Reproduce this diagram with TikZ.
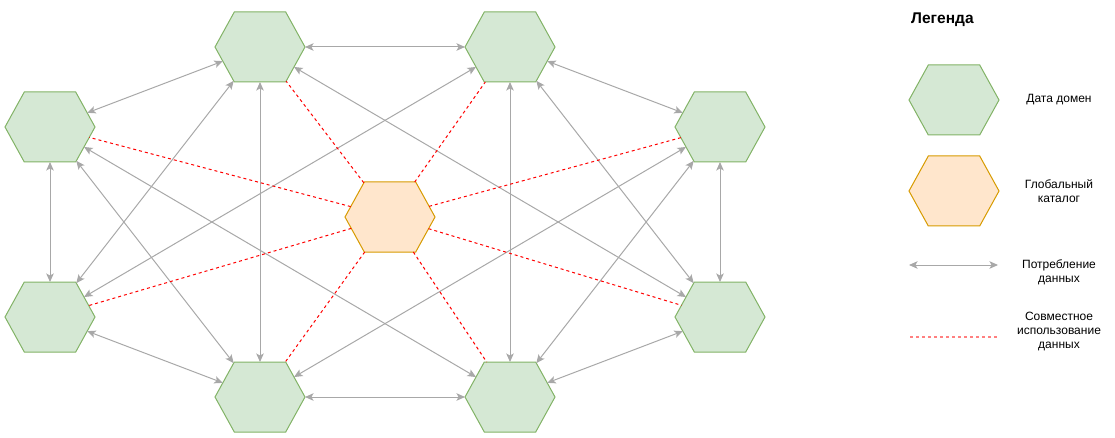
\documentclass[tikz,border=0pt]{standalone}
\usepackage{fontspec}
\setmainfont{Liberation Sans}
\usetikzlibrary{arrows.meta}
\definecolor{domfill}{HTML}{D5E8D4}
\definecolor{domstroke}{HTML}{82B366}
\definecolor{catfill}{HTML}{FFE6CC}
\definecolor{catstroke}{HTML}{D79B00}
\definecolor{edgegray}{HTML}{A8A8A8}
\definecolor{sharered}{HTML}{FF0000}
\definecolor{legendred}{HTML}{FF8080}
\makeatletter
\def\hexA{45}\def\hexB{35}\def\hexC{19.3}
\pgfdeclareshape{hexbox}{%
  \anchor{center}{\pgfpointorigin}%
  \anchor{text}{\pgf@x=-.5\wd\pgfnodeparttextbox \pgf@y=-.5\ht\pgfnodeparttextbox \advance\pgf@y by .5\dp\pgfnodeparttextbox}%
  \anchor{north}{\pgfpoint{0pt}{\hexB pt}}%
  \anchor{south}{\pgfpoint{0pt}{-\hexB pt}}%
  \anchor{east}{\pgfpoint{\hexA pt}{0pt}}%
  \anchor{west}{\pgfpoint{-\hexA pt}{0pt}}%
  \backgroundpath{%
    \pgfpathmoveto{\pgfpoint{-\hexA pt}{0pt}}%
    \pgfpathlineto{\pgfpoint{-\hexA pt+\hexC pt}{\hexB pt}}%
    \pgfpathlineto{\pgfpoint{\hexA pt-\hexC pt}{\hexB pt}}%
    \pgfpathlineto{\pgfpoint{\hexA pt}{0pt}}%
    \pgfpathlineto{\pgfpoint{\hexA pt-\hexC pt}{-\hexB pt}}%
    \pgfpathlineto{\pgfpoint{-\hexA pt+\hexC pt}{-\hexB pt}}%
    \pgfpathclose
  }%
  \anchorborder{%
    \edef\hx@dx{\the\pgf@x}\edef\hx@dy{\the\pgf@y}%
    \pgfmathsetmacro\hx@t{min(\hexB/max(abs(\hx@dy),0.01),\hexA/max(abs(\hx@dx)+(\hexC/\hexB)*abs(\hx@dy),0.01))}%
    \pgfmathsetmacro\hx@rx{\hx@t*(\hx@dx)}%
    \pgfmathsetmacro\hx@ry{\hx@t*(\hx@dy)}%
    \pgf@x=\hx@rx pt\relax
    \pgf@y=\hx@ry pt\relax
  }%
}
\makeatother
\tikzset{
  dom/.style={shape=hexbox, draw=domstroke, fill=domfill, line width=1pt},
  cat/.style={shape=hexbox, draw=catstroke, fill=catfill, line width=1pt},
  con/.style={draw=edgegray, line width=1pt, >={Stealth[length=8.5pt,width=7.5pt,inset=2pt]}, <->},
  share/.style={draw=sharered, line width=1pt, dash pattern=on 3pt off 3pt},
  legshare/.style={draw=legendred, line width=2pt, dash pattern=on 3pt off 3pt},
  lbl/.style={font=\fontsize{12}{14}\selectfont, align=center, inner sep=0pt},
  ttl/.style={font=\bfseries\fontsize{15.5}{18}\selectfont, anchor=west, inner sep=0pt}
}
\begin{document}
\begin{tikzpicture}[x=1pt,y=-1pt]
\useasboundingbox (0,0) rectangle (1115,438);
% domains
\node[dom] (A) at (260,47) {};
\node[dom] (B) at (510,47) {};
\node[dom] (C) at (50,127) {};
\node[dom] (D) at (720,127) {};
\node[dom] (F) at (50,317) {};
\node[dom] (G) at (720,317) {};
\node[dom] (H) at (260,397) {};
\node[dom] (I) at (510,397) {};
\node[cat] (E) at (390,217) {};
% data consumption
\draw[con] (A) -- (B);
\draw[con] (A) -- (C);
\draw[con] (A) -- (F);
\draw[con] (A) -- (H);
\draw[con] (A) -- (G);
\draw[con] (B) -- (D);
\draw[con] (B) -- (G);
\draw[con] (B) -- (I);
\draw[con] (B) -- (F);
\draw[con] (C) -- (F);
\draw[con] (C) -- (H);
\draw[con] (C) -- (I);
\draw[con] (D) -- (G);
\draw[con] (D) -- (I);
\draw[con] (D) -- (H);
\draw[con] (F) -- (H);
\draw[con] (G) -- (I);
\draw[con] (H) -- (I);
% data sharing
\foreach \n in {A,B,C,D,F,G,H,I} \draw[share] (E) -- (\n);
% legend
\node[ttl] (title) at (911,20) {Легенда};
\node[dom] (ldom) at (954,100) {};
\node[lbl] (tdom) at (1059,100) {Дата домен};
\node[cat] (lcat) at (954,191) {};
\node[lbl] (tcat) at (1059,191) {Глобальный\\каталог};
\coordinate (la1) at (909,265);
\coordinate (la2) at (998,265);
\draw[con] (la1) -- (la2);
\node[lbl] (tcon) at (1059,272) {Потребление\\данных};
\coordinate (ls1) at (910,337);
\coordinate (ls2) at (997,337);
\draw[legshare] (ls1) -- (ls2);
\node[lbl] (tshare) at (1059,332) {Совместное\\использование\\данных};
\end{tikzpicture}
\end{document}
